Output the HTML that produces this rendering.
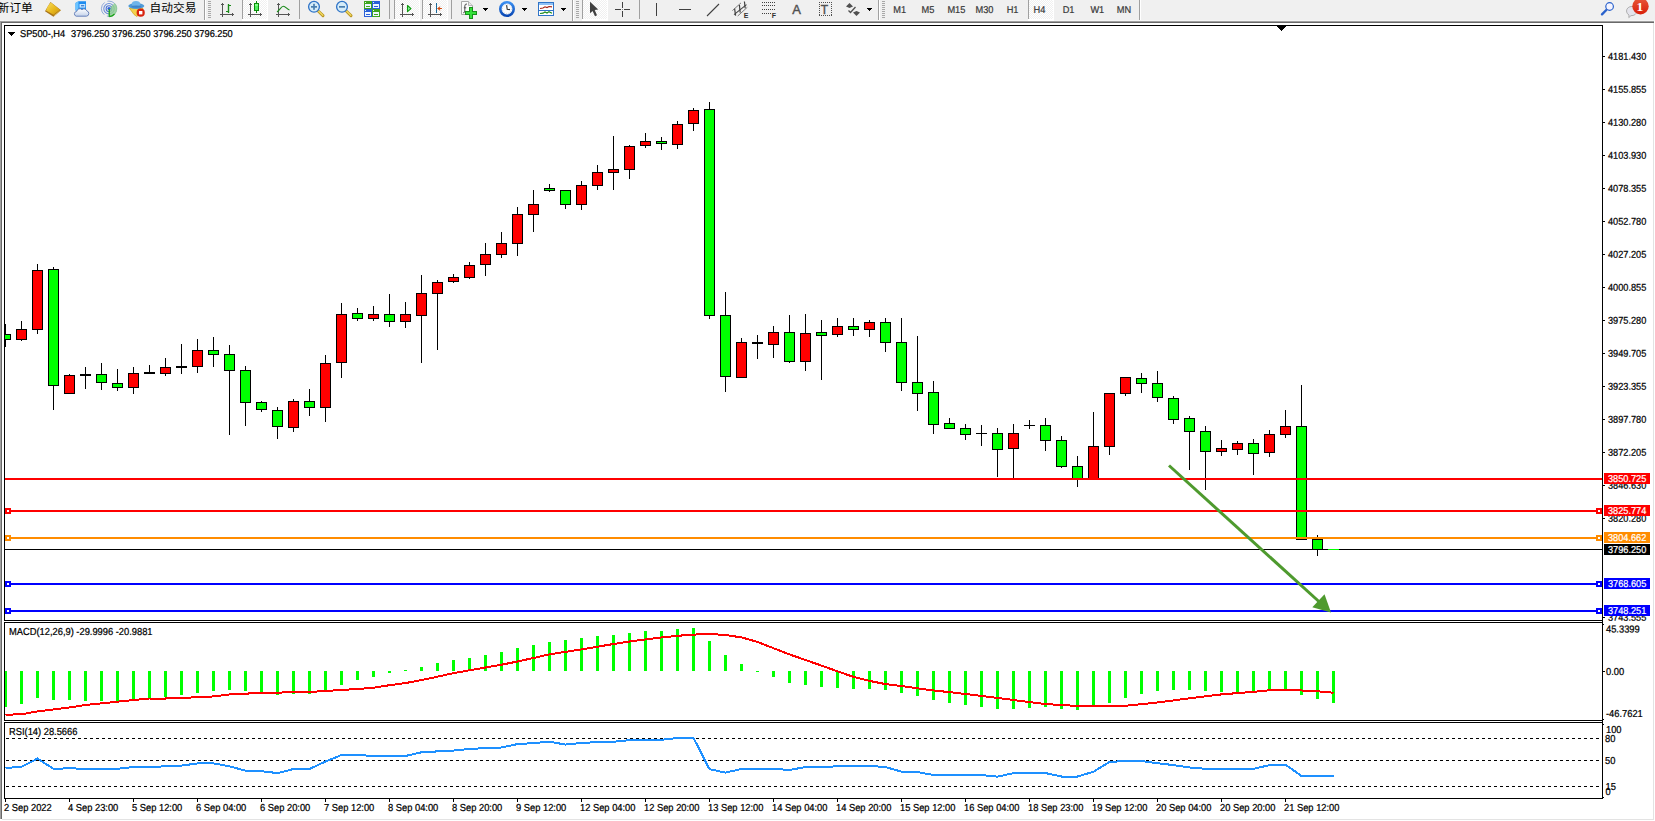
<!DOCTYPE html>
<html lang="zh"><head><meta charset="utf-8"><title>SP500-,H4</title>
<style>
html,body{margin:0;padding:0;background:#fff;}
body{width:1655px;height:821px;overflow:hidden;position:relative;font-family:"Liberation Sans","Noto Sans CJK SC",sans-serif;}
svg text{white-space:pre;}
</style></head><body>
<svg width="1655" height="821" viewBox="0 0 1655 821" style="position:absolute;left:0;top:0"><g shape-rendering="crispEdges"><rect x="0" y="0" width="1655" height="20" fill="#f0f0f0"/>
<rect x="0" y="20" width="1655" height="1" fill="#f5f5f5"/>
<rect x="0" y="21" width="1654" height="1" fill="#a0a0a0"/>
<rect x="1" y="22" width="1653" height="1" fill="#696969"/>
<rect x="0" y="22" width="1" height="797" fill="#a0a0a0"/>
<rect x="1" y="23" width="1" height="796" fill="#696969"/>
<rect x="1653" y="23" width="1" height="797" fill="#e3e3e3"/>
<rect x="2" y="819" width="1652" height="1" fill="#e3e3e3"/>
<rect x="4" y="25" width="1599" height="1" fill="#000"/><rect x="4" y="620" width="1599" height="1" fill="#000"/><rect x="4" y="25" width="1" height="596" fill="#000"/><rect x="1602" y="25" width="1" height="596" fill="#000"/>
<rect x="4" y="622" width="1599" height="1" fill="#000"/><rect x="4" y="720" width="1599" height="1" fill="#000"/><rect x="4" y="622" width="1" height="99" fill="#000"/><rect x="1602" y="622" width="1" height="99" fill="#000"/>
<rect x="4" y="722" width="1599" height="1" fill="#000"/><rect x="4" y="798" width="1599" height="1" fill="#000"/><rect x="4" y="722" width="1" height="77" fill="#000"/><rect x="1602" y="722" width="1" height="77" fill="#000"/>
<rect x="1602" y="620" width="1" height="3" fill="#000"/>
<rect x="1602" y="720" width="1" height="3" fill="#000"/>
<rect x="1277" y="26" width="9" height="1" fill="#000"/>
<rect x="1278" y="27" width="7" height="1" fill="#000"/>
<rect x="1279" y="28" width="5" height="1" fill="#000"/>
<rect x="1280" y="29" width="3" height="1" fill="#000"/>
<rect x="1281" y="30" width="1" height="1" fill="#000"/>
<rect x="8" y="32" width="7" height="1" fill="#000"/>
<rect x="9" y="33" width="5" height="1" fill="#000"/>
<rect x="10" y="34" width="3" height="1" fill="#000"/>
<rect x="11" y="35" width="1" height="1" fill="#000"/>
<rect x="5" y="324" width="1" height="23" fill="#000"/>
<rect x="5" y="334" width="6" height="6" fill="#000"/>
<rect x="5" y="335" width="5" height="4" fill="#00ff00"/>
<rect x="21" y="321" width="1" height="20" fill="#000"/>
<rect x="16" y="329" width="11" height="11" fill="#000"/>
<rect x="17" y="330" width="9" height="9" fill="#ff0000"/>
<rect x="37" y="264" width="1" height="70" fill="#000"/>
<rect x="32" y="270" width="11" height="60" fill="#000"/>
<rect x="33" y="271" width="9" height="58" fill="#ff0000"/>
<rect x="53" y="267" width="1" height="143" fill="#000"/>
<rect x="48" y="269" width="11" height="117" fill="#000"/>
<rect x="49" y="270" width="9" height="115" fill="#00ff00"/>
<rect x="69" y="374" width="1" height="20" fill="#000"/>
<rect x="64" y="375" width="11" height="19" fill="#000"/>
<rect x="65" y="376" width="9" height="17" fill="#ff0000"/>
<rect x="85" y="367" width="1" height="22" fill="#000"/>
<rect x="80" y="374" width="11" height="2" fill="#000"/>
<rect x="101" y="363" width="1" height="27" fill="#000"/>
<rect x="96" y="374" width="11" height="9" fill="#000"/>
<rect x="97" y="375" width="9" height="7" fill="#00ff00"/>
<rect x="117" y="369" width="1" height="22" fill="#000"/>
<rect x="112" y="383" width="11" height="5" fill="#000"/>
<rect x="113" y="384" width="9" height="3" fill="#00ff00"/>
<rect x="133" y="367" width="1" height="27" fill="#000"/>
<rect x="128" y="373" width="11" height="15" fill="#000"/>
<rect x="129" y="374" width="9" height="13" fill="#ff0000"/>
<rect x="149" y="365" width="1" height="9" fill="#000"/>
<rect x="144" y="372" width="11" height="2" fill="#000"/>
<rect x="165" y="358" width="1" height="18" fill="#000"/>
<rect x="160" y="367" width="11" height="7" fill="#000"/>
<rect x="161" y="368" width="9" height="5" fill="#ff0000"/>
<rect x="181" y="344" width="1" height="30" fill="#000"/>
<rect x="176" y="366" width="11" height="2" fill="#000"/>
<rect x="197" y="339" width="1" height="34" fill="#000"/>
<rect x="192" y="350" width="11" height="17" fill="#000"/>
<rect x="193" y="351" width="9" height="15" fill="#ff0000"/>
<rect x="213" y="337" width="1" height="30" fill="#000"/>
<rect x="208" y="350" width="11" height="5" fill="#000"/>
<rect x="209" y="351" width="9" height="3" fill="#00ff00"/>
<rect x="229" y="345" width="1" height="90" fill="#000"/>
<rect x="224" y="354" width="11" height="17" fill="#000"/>
<rect x="225" y="355" width="9" height="15" fill="#00ff00"/>
<rect x="245" y="366" width="1" height="60" fill="#000"/>
<rect x="240" y="370" width="11" height="33" fill="#000"/>
<rect x="241" y="371" width="9" height="31" fill="#00ff00"/>
<rect x="261" y="401" width="1" height="11" fill="#000"/>
<rect x="256" y="402" width="11" height="8" fill="#000"/>
<rect x="257" y="403" width="9" height="6" fill="#00ff00"/>
<rect x="277" y="407" width="1" height="32" fill="#000"/>
<rect x="272" y="410" width="11" height="17" fill="#000"/>
<rect x="273" y="411" width="9" height="15" fill="#00ff00"/>
<rect x="293" y="399" width="1" height="33" fill="#000"/>
<rect x="288" y="401" width="11" height="27" fill="#000"/>
<rect x="289" y="402" width="9" height="25" fill="#ff0000"/>
<rect x="309" y="389" width="1" height="27" fill="#000"/>
<rect x="304" y="401" width="11" height="7" fill="#000"/>
<rect x="305" y="402" width="9" height="5" fill="#00ff00"/>
<rect x="325" y="355" width="1" height="67" fill="#000"/>
<rect x="320" y="363" width="11" height="45" fill="#000"/>
<rect x="321" y="364" width="9" height="43" fill="#ff0000"/>
<rect x="341" y="303" width="1" height="75" fill="#000"/>
<rect x="336" y="314" width="11" height="49" fill="#000"/>
<rect x="337" y="315" width="9" height="47" fill="#ff0000"/>
<rect x="357" y="308" width="1" height="13" fill="#000"/>
<rect x="352" y="313" width="11" height="6" fill="#000"/>
<rect x="353" y="314" width="9" height="4" fill="#00ff00"/>
<rect x="373" y="306" width="1" height="15" fill="#000"/>
<rect x="368" y="314" width="11" height="5" fill="#000"/>
<rect x="369" y="315" width="9" height="3" fill="#ff0000"/>
<rect x="389" y="294" width="1" height="33" fill="#000"/>
<rect x="384" y="314" width="11" height="8" fill="#000"/>
<rect x="385" y="315" width="9" height="6" fill="#00ff00"/>
<rect x="405" y="302" width="1" height="26" fill="#000"/>
<rect x="400" y="314" width="11" height="8" fill="#000"/>
<rect x="401" y="315" width="9" height="6" fill="#ff0000"/>
<rect x="421" y="275" width="1" height="88" fill="#000"/>
<rect x="416" y="293" width="11" height="23" fill="#000"/>
<rect x="417" y="294" width="9" height="21" fill="#ff0000"/>
<rect x="437" y="280" width="1" height="70" fill="#000"/>
<rect x="432" y="282" width="11" height="12" fill="#000"/>
<rect x="433" y="283" width="9" height="10" fill="#ff0000"/>
<rect x="453" y="274" width="1" height="9" fill="#000"/>
<rect x="448" y="277" width="11" height="5" fill="#000"/>
<rect x="449" y="278" width="9" height="3" fill="#ff0000"/>
<rect x="469" y="262" width="1" height="17" fill="#000"/>
<rect x="464" y="265" width="11" height="13" fill="#000"/>
<rect x="465" y="266" width="9" height="11" fill="#ff0000"/>
<rect x="485" y="243" width="1" height="33" fill="#000"/>
<rect x="480" y="254" width="11" height="11" fill="#000"/>
<rect x="481" y="255" width="9" height="9" fill="#ff0000"/>
<rect x="501" y="232" width="1" height="26" fill="#000"/>
<rect x="496" y="243" width="11" height="12" fill="#000"/>
<rect x="497" y="244" width="9" height="10" fill="#ff0000"/>
<rect x="517" y="207" width="1" height="49" fill="#000"/>
<rect x="512" y="214" width="11" height="30" fill="#000"/>
<rect x="513" y="215" width="9" height="28" fill="#ff0000"/>
<rect x="533" y="190" width="1" height="42" fill="#000"/>
<rect x="528" y="204" width="11" height="11" fill="#000"/>
<rect x="529" y="205" width="9" height="9" fill="#ff0000"/>
<rect x="549" y="184" width="1" height="8" fill="#000"/>
<rect x="544" y="188" width="11" height="3" fill="#000"/>
<rect x="545" y="189" width="9" height="1" fill="#00ff00"/>
<rect x="565" y="190" width="1" height="19" fill="#000"/>
<rect x="560" y="190" width="11" height="15" fill="#000"/>
<rect x="561" y="191" width="9" height="13" fill="#00ff00"/>
<rect x="581" y="181" width="1" height="29" fill="#000"/>
<rect x="576" y="185" width="11" height="20" fill="#000"/>
<rect x="577" y="186" width="9" height="18" fill="#ff0000"/>
<rect x="597" y="165" width="1" height="25" fill="#000"/>
<rect x="592" y="172" width="11" height="14" fill="#000"/>
<rect x="593" y="173" width="9" height="12" fill="#ff0000"/>
<rect x="613" y="136" width="1" height="54" fill="#000"/>
<rect x="608" y="169" width="11" height="4" fill="#000"/>
<rect x="609" y="170" width="9" height="2" fill="#ff0000"/>
<rect x="629" y="145" width="1" height="34" fill="#000"/>
<rect x="624" y="146" width="11" height="24" fill="#000"/>
<rect x="625" y="147" width="9" height="22" fill="#ff0000"/>
<rect x="645" y="133" width="1" height="15" fill="#000"/>
<rect x="640" y="141" width="11" height="5" fill="#000"/>
<rect x="641" y="142" width="9" height="3" fill="#ff0000"/>
<rect x="661" y="137" width="1" height="13" fill="#000"/>
<rect x="656" y="141" width="11" height="3" fill="#000"/>
<rect x="657" y="142" width="9" height="1" fill="#00ff00"/>
<rect x="677" y="121" width="1" height="28" fill="#000"/>
<rect x="672" y="124" width="11" height="21" fill="#000"/>
<rect x="673" y="125" width="9" height="19" fill="#ff0000"/>
<rect x="693" y="108" width="1" height="23" fill="#000"/>
<rect x="688" y="110" width="11" height="14" fill="#000"/>
<rect x="689" y="111" width="9" height="12" fill="#ff0000"/>
<rect x="709" y="102" width="1" height="217" fill="#000"/>
<rect x="704" y="109" width="11" height="207" fill="#000"/>
<rect x="705" y="110" width="9" height="205" fill="#00ff00"/>
<rect x="725" y="292" width="1" height="100" fill="#000"/>
<rect x="720" y="315" width="11" height="62" fill="#000"/>
<rect x="721" y="316" width="9" height="60" fill="#00ff00"/>
<rect x="741" y="338" width="1" height="40" fill="#000"/>
<rect x="736" y="342" width="11" height="36" fill="#000"/>
<rect x="737" y="343" width="9" height="34" fill="#ff0000"/>
<rect x="757" y="335" width="1" height="24" fill="#000"/>
<rect x="752" y="342" width="11" height="2" fill="#000"/>
<rect x="773" y="326" width="1" height="32" fill="#000"/>
<rect x="768" y="332" width="11" height="13" fill="#000"/>
<rect x="769" y="333" width="9" height="11" fill="#ff0000"/>
<rect x="789" y="315" width="1" height="48" fill="#000"/>
<rect x="784" y="332" width="11" height="30" fill="#000"/>
<rect x="785" y="333" width="9" height="28" fill="#00ff00"/>
<rect x="805" y="314" width="1" height="57" fill="#000"/>
<rect x="800" y="333" width="11" height="29" fill="#000"/>
<rect x="801" y="334" width="9" height="27" fill="#ff0000"/>
<rect x="821" y="320" width="1" height="60" fill="#000"/>
<rect x="816" y="332" width="11" height="4" fill="#000"/>
<rect x="817" y="333" width="9" height="2" fill="#00ff00"/>
<rect x="837" y="318" width="1" height="19" fill="#000"/>
<rect x="832" y="326" width="11" height="9" fill="#000"/>
<rect x="833" y="327" width="9" height="7" fill="#ff0000"/>
<rect x="853" y="318" width="1" height="18" fill="#000"/>
<rect x="848" y="326" width="11" height="4" fill="#000"/>
<rect x="849" y="327" width="9" height="2" fill="#00ff00"/>
<rect x="869" y="320" width="1" height="17" fill="#000"/>
<rect x="864" y="322" width="11" height="8" fill="#000"/>
<rect x="865" y="323" width="9" height="6" fill="#ff0000"/>
<rect x="885" y="318" width="1" height="34" fill="#000"/>
<rect x="880" y="322" width="11" height="21" fill="#000"/>
<rect x="881" y="323" width="9" height="19" fill="#00ff00"/>
<rect x="901" y="318" width="1" height="73" fill="#000"/>
<rect x="896" y="342" width="11" height="41" fill="#000"/>
<rect x="897" y="343" width="9" height="39" fill="#00ff00"/>
<rect x="917" y="336" width="1" height="75" fill="#000"/>
<rect x="912" y="382" width="11" height="12" fill="#000"/>
<rect x="913" y="383" width="9" height="10" fill="#00ff00"/>
<rect x="933" y="381" width="1" height="53" fill="#000"/>
<rect x="928" y="392" width="11" height="33" fill="#000"/>
<rect x="929" y="393" width="9" height="31" fill="#00ff00"/>
<rect x="949" y="418" width="1" height="11" fill="#000"/>
<rect x="944" y="423" width="11" height="6" fill="#000"/>
<rect x="945" y="424" width="9" height="4" fill="#00ff00"/>
<rect x="965" y="424" width="1" height="16" fill="#000"/>
<rect x="960" y="428" width="11" height="7" fill="#000"/>
<rect x="961" y="429" width="9" height="5" fill="#00ff00"/>
<rect x="981" y="425" width="1" height="21" fill="#000"/>
<rect x="976" y="433" width="11" height="1" fill="#000"/>
<rect x="997" y="428" width="1" height="49" fill="#000"/>
<rect x="992" y="433" width="11" height="17" fill="#000"/>
<rect x="993" y="434" width="9" height="15" fill="#00ff00"/>
<rect x="1013" y="424" width="1" height="55" fill="#000"/>
<rect x="1008" y="433" width="11" height="16" fill="#000"/>
<rect x="1009" y="434" width="9" height="14" fill="#ff0000"/>
<rect x="1029" y="420" width="1" height="9" fill="#000"/>
<rect x="1024" y="425" width="11" height="1" fill="#000"/>
<rect x="1045" y="418" width="1" height="33" fill="#000"/>
<rect x="1040" y="425" width="11" height="16" fill="#000"/>
<rect x="1041" y="426" width="9" height="14" fill="#00ff00"/>
<rect x="1061" y="436" width="1" height="32" fill="#000"/>
<rect x="1056" y="440" width="11" height="27" fill="#000"/>
<rect x="1057" y="441" width="9" height="25" fill="#00ff00"/>
<rect x="1077" y="456" width="1" height="31" fill="#000"/>
<rect x="1072" y="466" width="11" height="13" fill="#000"/>
<rect x="1073" y="467" width="9" height="11" fill="#00ff00"/>
<rect x="1093" y="412" width="1" height="67" fill="#000"/>
<rect x="1088" y="446" width="11" height="33" fill="#000"/>
<rect x="1089" y="447" width="9" height="31" fill="#ff0000"/>
<rect x="1109" y="393" width="1" height="62" fill="#000"/>
<rect x="1104" y="393" width="11" height="54" fill="#000"/>
<rect x="1105" y="394" width="9" height="52" fill="#ff0000"/>
<rect x="1125" y="377" width="1" height="19" fill="#000"/>
<rect x="1120" y="377" width="11" height="17" fill="#000"/>
<rect x="1121" y="378" width="9" height="15" fill="#ff0000"/>
<rect x="1141" y="373" width="1" height="20" fill="#000"/>
<rect x="1136" y="378" width="11" height="6" fill="#000"/>
<rect x="1137" y="379" width="9" height="4" fill="#00ff00"/>
<rect x="1157" y="371" width="1" height="31" fill="#000"/>
<rect x="1152" y="383" width="11" height="15" fill="#000"/>
<rect x="1153" y="384" width="9" height="13" fill="#00ff00"/>
<rect x="1173" y="396" width="1" height="28" fill="#000"/>
<rect x="1168" y="398" width="11" height="22" fill="#000"/>
<rect x="1169" y="399" width="9" height="20" fill="#00ff00"/>
<rect x="1189" y="416" width="1" height="54" fill="#000"/>
<rect x="1184" y="418" width="11" height="14" fill="#000"/>
<rect x="1185" y="419" width="9" height="12" fill="#00ff00"/>
<rect x="1205" y="426" width="1" height="64" fill="#000"/>
<rect x="1200" y="431" width="11" height="21" fill="#000"/>
<rect x="1201" y="432" width="9" height="19" fill="#00ff00"/>
<rect x="1221" y="440" width="1" height="16" fill="#000"/>
<rect x="1216" y="448" width="11" height="4" fill="#000"/>
<rect x="1217" y="449" width="9" height="2" fill="#ff0000"/>
<rect x="1237" y="441" width="1" height="14" fill="#000"/>
<rect x="1232" y="443" width="11" height="7" fill="#000"/>
<rect x="1233" y="444" width="9" height="5" fill="#ff0000"/>
<rect x="1253" y="439" width="1" height="36" fill="#000"/>
<rect x="1248" y="443" width="11" height="11" fill="#000"/>
<rect x="1249" y="444" width="9" height="9" fill="#00ff00"/>
<rect x="1269" y="430" width="1" height="27" fill="#000"/>
<rect x="1264" y="434" width="11" height="19" fill="#000"/>
<rect x="1265" y="435" width="9" height="17" fill="#ff0000"/>
<rect x="1285" y="410" width="1" height="28" fill="#000"/>
<rect x="1280" y="426" width="11" height="9" fill="#000"/>
<rect x="1281" y="427" width="9" height="7" fill="#ff0000"/>
<rect x="1301" y="385" width="1" height="155" fill="#000"/>
<rect x="1296" y="426" width="11" height="114" fill="#000"/>
<rect x="1297" y="427" width="9" height="112" fill="#00ff00"/>
<rect x="1317" y="535" width="1" height="21" fill="#000"/>
<rect x="1312" y="539" width="11" height="11" fill="#000"/>
<rect x="1313" y="540" width="9" height="9" fill="#00ff00"/>
<rect x="5" y="549" width="1597" height="1" fill="#000"/>
<rect x="1328" y="549" width="11" height="1" fill="#00ff00"/>
<rect x="5" y="478" width="1597" height="2" fill="#ff0000"/>
<rect x="5" y="510" width="1597" height="2" fill="#ff0000"/><rect x="5" y="508" width="6" height="6" fill="#ff0000"/><rect x="7" y="510" width="2" height="2" fill="#fff"/><rect x="1596" y="508" width="6" height="6" fill="#ff0000"/><rect x="1598" y="510" width="2" height="2" fill="#fff"/>
<rect x="5" y="537" width="1597" height="2" fill="#ff8c00"/><rect x="5" y="535" width="6" height="6" fill="#ff8c00"/><rect x="7" y="537" width="2" height="2" fill="#fff"/><rect x="1596" y="535" width="6" height="6" fill="#ff8c00"/><rect x="1598" y="537" width="2" height="2" fill="#fff"/>
<rect x="5" y="583" width="1597" height="2" fill="#0000ff"/><rect x="5" y="581" width="6" height="6" fill="#0000ff"/><rect x="7" y="583" width="2" height="2" fill="#fff"/><rect x="1596" y="581" width="6" height="6" fill="#0000ff"/><rect x="1598" y="583" width="2" height="2" fill="#fff"/>
<rect x="5" y="610" width="1597" height="2" fill="#0000ff"/><rect x="5" y="608" width="6" height="6" fill="#0000ff"/><rect x="7" y="610" width="2" height="2" fill="#fff"/><rect x="1596" y="608" width="6" height="6" fill="#0000ff"/><rect x="1598" y="610" width="2" height="2" fill="#fff"/>
<rect x="1603" y="56" width="2" height="1" fill="#000"/>
<rect x="1603" y="89" width="2" height="1" fill="#000"/>
<rect x="1603" y="122" width="2" height="1" fill="#000"/>
<rect x="1603" y="155" width="2" height="1" fill="#000"/>
<rect x="1603" y="188" width="2" height="1" fill="#000"/>
<rect x="1603" y="221" width="2" height="1" fill="#000"/>
<rect x="1603" y="254" width="2" height="1" fill="#000"/>
<rect x="1603" y="287" width="2" height="1" fill="#000"/>
<rect x="1603" y="320" width="2" height="1" fill="#000"/>
<rect x="1603" y="353" width="2" height="1" fill="#000"/>
<rect x="1603" y="386" width="2" height="1" fill="#000"/>
<rect x="1603" y="419" width="2" height="1" fill="#000"/>
<rect x="1603" y="452" width="2" height="1" fill="#000"/>
<rect x="1603" y="485" width="2" height="1" fill="#000"/>
<rect x="1603" y="518" width="2" height="1" fill="#000"/>
<rect x="1603" y="617" width="2" height="1" fill="#000"/>
<rect x="5" y="671" width="2" height="36" fill="#00ff00"/>
<rect x="20" y="671" width="3" height="33" fill="#00ff00"/>
<rect x="36" y="671" width="3" height="27" fill="#00ff00"/>
<rect x="52" y="671" width="3" height="29" fill="#00ff00"/>
<rect x="68" y="671" width="3" height="29" fill="#00ff00"/>
<rect x="84" y="671" width="3" height="30" fill="#00ff00"/>
<rect x="100" y="671" width="3" height="30" fill="#00ff00"/>
<rect x="116" y="671" width="3" height="30" fill="#00ff00"/>
<rect x="132" y="671" width="3" height="29" fill="#00ff00"/>
<rect x="148" y="671" width="3" height="28" fill="#00ff00"/>
<rect x="164" y="671" width="3" height="26" fill="#00ff00"/>
<rect x="180" y="671" width="3" height="24" fill="#00ff00"/>
<rect x="196" y="671" width="3" height="22" fill="#00ff00"/>
<rect x="212" y="671" width="3" height="20" fill="#00ff00"/>
<rect x="228" y="671" width="3" height="19" fill="#00ff00"/>
<rect x="244" y="671" width="3" height="20" fill="#00ff00"/>
<rect x="260" y="671" width="3" height="22" fill="#00ff00"/>
<rect x="276" y="671" width="3" height="24" fill="#00ff00"/>
<rect x="292" y="671" width="3" height="23" fill="#00ff00"/>
<rect x="308" y="671" width="3" height="23" fill="#00ff00"/>
<rect x="324" y="671" width="3" height="21" fill="#00ff00"/>
<rect x="340" y="671" width="3" height="14" fill="#00ff00"/>
<rect x="356" y="671" width="3" height="9" fill="#00ff00"/>
<rect x="372" y="671" width="3" height="6" fill="#00ff00"/>
<rect x="388" y="671" width="3" height="2" fill="#00ff00"/>
<rect x="404" y="670" width="3" height="1" fill="#00ff00"/>
<rect x="420" y="667" width="3" height="4" fill="#00ff00"/>
<rect x="436" y="663" width="3" height="8" fill="#00ff00"/>
<rect x="452" y="660" width="3" height="11" fill="#00ff00"/>
<rect x="468" y="658" width="3" height="13" fill="#00ff00"/>
<rect x="484" y="655" width="3" height="16" fill="#00ff00"/>
<rect x="500" y="652" width="3" height="19" fill="#00ff00"/>
<rect x="516" y="648" width="3" height="23" fill="#00ff00"/>
<rect x="532" y="645" width="3" height="26" fill="#00ff00"/>
<rect x="548" y="642" width="3" height="29" fill="#00ff00"/>
<rect x="564" y="640" width="3" height="31" fill="#00ff00"/>
<rect x="580" y="638" width="3" height="33" fill="#00ff00"/>
<rect x="596" y="636" width="3" height="35" fill="#00ff00"/>
<rect x="612" y="635" width="3" height="36" fill="#00ff00"/>
<rect x="628" y="633" width="3" height="38" fill="#00ff00"/>
<rect x="644" y="631" width="3" height="40" fill="#00ff00"/>
<rect x="660" y="631" width="3" height="40" fill="#00ff00"/>
<rect x="676" y="629" width="3" height="42" fill="#00ff00"/>
<rect x="692" y="628" width="3" height="43" fill="#00ff00"/>
<rect x="708" y="641" width="3" height="30" fill="#00ff00"/>
<rect x="724" y="655" width="3" height="16" fill="#00ff00"/>
<rect x="740" y="664" width="3" height="7" fill="#00ff00"/>
<rect x="756" y="671" width="3" height="1" fill="#00ff00"/>
<rect x="772" y="671" width="3" height="6" fill="#00ff00"/>
<rect x="788" y="671" width="3" height="12" fill="#00ff00"/>
<rect x="804" y="671" width="3" height="14" fill="#00ff00"/>
<rect x="820" y="671" width="3" height="16" fill="#00ff00"/>
<rect x="836" y="671" width="3" height="17" fill="#00ff00"/>
<rect x="852" y="671" width="3" height="18" fill="#00ff00"/>
<rect x="868" y="671" width="3" height="18" fill="#00ff00"/>
<rect x="884" y="671" width="3" height="19" fill="#00ff00"/>
<rect x="900" y="671" width="3" height="22" fill="#00ff00"/>
<rect x="916" y="671" width="3" height="25" fill="#00ff00"/>
<rect x="932" y="671" width="3" height="29" fill="#00ff00"/>
<rect x="948" y="671" width="3" height="32" fill="#00ff00"/>
<rect x="964" y="671" width="3" height="34" fill="#00ff00"/>
<rect x="980" y="671" width="3" height="36" fill="#00ff00"/>
<rect x="996" y="671" width="3" height="38" fill="#00ff00"/>
<rect x="1012" y="671" width="3" height="38" fill="#00ff00"/>
<rect x="1028" y="671" width="3" height="37" fill="#00ff00"/>
<rect x="1044" y="671" width="3" height="36" fill="#00ff00"/>
<rect x="1060" y="671" width="3" height="38" fill="#00ff00"/>
<rect x="1076" y="671" width="3" height="39" fill="#00ff00"/>
<rect x="1092" y="671" width="3" height="36" fill="#00ff00"/>
<rect x="1108" y="671" width="3" height="32" fill="#00ff00"/>
<rect x="1124" y="671" width="3" height="27" fill="#00ff00"/>
<rect x="1140" y="671" width="3" height="23" fill="#00ff00"/>
<rect x="1156" y="671" width="3" height="20" fill="#00ff00"/>
<rect x="1172" y="671" width="3" height="19" fill="#00ff00"/>
<rect x="1188" y="671" width="3" height="19" fill="#00ff00"/>
<rect x="1204" y="671" width="3" height="20" fill="#00ff00"/>
<rect x="1220" y="671" width="3" height="21" fill="#00ff00"/>
<rect x="1236" y="671" width="3" height="22" fill="#00ff00"/>
<rect x="1252" y="671" width="3" height="21" fill="#00ff00"/>
<rect x="1268" y="671" width="3" height="20" fill="#00ff00"/>
<rect x="1284" y="671" width="3" height="19" fill="#00ff00"/>
<rect x="1300" y="671" width="3" height="24" fill="#00ff00"/>
<rect x="1316" y="671" width="3" height="28" fill="#00ff00"/>
<rect x="1332" y="671" width="3" height="32" fill="#00ff00"/>
<polyline fill="none" stroke="#ff0000" stroke-width="2" points="5.5,714.7 21.5,714.3 37.5,711.4 53.5,709.4 69.5,707.5 85.5,705 101.5,703.4 117.5,701.7 133.5,700 149.5,698.5 165.5,698.5 181.5,697.8 197.5,697.3 213.5,696.4 229.5,694.4 245.5,693.7 261.5,692.7 277.5,692.7 293.5,692 309.5,692 325.5,691 341.5,690 357.5,689 373.5,687.7 389.5,685.2 405.5,683.1 421.5,680.0 437.5,676.7 453.5,673.1 469.5,670.3 485.5,667.5 501.5,664.7 517.5,661.5 533.5,658.0 549.5,654.3 565.5,651.9 581.5,649.4 597.5,646.7 613.5,644.0 629.5,641.5 645.5,639.4 661.5,637.5 677.5,635.8 693.5,634.6 709.5,634.0 725.5,635.0 741.5,637.4 757.5,641.9 773.5,648.2 789.5,654.4 805.5,660.0 821.5,665.6 837.5,671.3 853.5,676.9 869.5,680.9 885.5,684.1 901.5,686.0 917.5,688.3 933.5,690.5 949.5,692.1 965.5,694.0 981.5,696.0 997.5,697.9 1013.5,700.0 1029.5,702.1 1045.5,704.0 1061.5,705.1 1077.5,705.9 1093.5,706.2 1109.5,706.2 1125.5,705.8 1141.5,704.2 1157.5,702.5 1173.5,700.4 1189.5,698.3 1205.5,696.3 1221.5,694.4 1237.5,693.1 1253.5,691.8 1269.5,690.3 1285.5,690.0 1301.5,690.5 1317.5,691.3 1333.5,692.7"/>
<rect x="1603" y="624" width="1" height="1" fill="#000"/><rect x="1603" y="671" width="2" height="1" fill="#000"/><rect x="1603" y="719" width="1" height="1" fill="#000"/><rect x="1603" y="724" width="1" height="1" fill="#000"/><rect x="1603" y="797" width="1" height="1" fill="#000"/>
<line x1="6" x2="1602" y1="738.5" y2="738.5" stroke="#000" stroke-width="1" stroke-dasharray="3 3"/>
<line x1="6" x2="1602" y1="760.5" y2="760.5" stroke="#000" stroke-width="1" stroke-dasharray="3 3"/>
<line x1="6" x2="1602" y1="786.5" y2="786.5" stroke="#000" stroke-width="1" stroke-dasharray="3 3"/>
<polyline fill="none" stroke="#1e90ff" stroke-width="2" points="5.5,768 21.5,766.8 37.5,758.6 53.5,768.8 69.5,768.3 85.5,768.8 101.5,768.8 117.5,768.8 133.5,767 149.5,767 165.5,766.3 181.5,765.6 197.5,763.4 213.5,763.4 229.5,766.3 245.5,770.7 261.5,771.2 277.5,773.1 293.5,769 309.5,769 325.5,761.5 341.5,755 357.5,755 373.5,756 389.5,756 405.5,756 421.5,752.3 437.5,751.4 453.5,750.6 469.5,748.9 485.5,748.2 501.5,747.5 517.5,744.1 533.5,743.1 549.5,741.7 565.5,744.6 581.5,742.9 597.5,742.2 613.5,741.7 629.5,740.2 645.5,739.8 661.5,739.8 677.5,738 693.5,737.8 709.5,769.2 725.5,772.6 741.5,769 757.5,769 773.5,768.8 789.5,770 805.5,767 821.5,767 837.5,766.3 853.5,765.9 869.5,765.9 885.5,767 901.5,771.7 917.5,772.1 933.5,775 949.5,775 965.5,775 981.5,775 997.5,776.7 1013.5,773.1 1029.5,773.1 1045.5,773.1 1061.5,776.5 1077.5,776.5 1093.5,771.7 1109.5,762 1125.5,761 1141.5,761 1157.5,763.2 1173.5,765.1 1189.5,767.5 1205.5,768.8 1221.5,768.8 1237.5,768.8 1253.5,768.8 1269.5,765.1 1285.5,764.6 1301.5,776 1317.5,776 1333.5,776"/>
<rect x="5" y="799" width="1" height="3" fill="#000"/>
<rect x="69" y="799" width="1" height="3" fill="#000"/>
<rect x="133" y="799" width="1" height="3" fill="#000"/>
<rect x="197" y="799" width="1" height="3" fill="#000"/>
<rect x="261" y="799" width="1" height="3" fill="#000"/>
<rect x="325" y="799" width="1" height="3" fill="#000"/>
<rect x="389" y="799" width="1" height="3" fill="#000"/>
<rect x="453" y="799" width="1" height="3" fill="#000"/>
<rect x="517" y="799" width="1" height="3" fill="#000"/>
<rect x="581" y="799" width="1" height="3" fill="#000"/>
<rect x="645" y="799" width="1" height="3" fill="#000"/>
<rect x="709" y="799" width="1" height="3" fill="#000"/>
<rect x="773" y="799" width="1" height="3" fill="#000"/>
<rect x="837" y="799" width="1" height="3" fill="#000"/>
<rect x="901" y="799" width="1" height="3" fill="#000"/>
<rect x="965" y="799" width="1" height="3" fill="#000"/>
<rect x="1029" y="799" width="1" height="3" fill="#000"/>
<rect x="1093" y="799" width="1" height="3" fill="#000"/>
<rect x="1157" y="799" width="1" height="3" fill="#000"/>
<rect x="1221" y="799" width="1" height="3" fill="#000"/>
<rect x="1285" y="799" width="1" height="3" fill="#000"/></g>
<g><line x1="1169" y1="465.5" x2="1320" y2="602.5" stroke="#4e9a2e" stroke-width="3"/>
<polygon points="1331,612.5 1324.5,594.3 1312.3,607.3" fill="#4e9a2e"/></g>
<g font-family="Liberation Sans, sans-serif" font-size="9.33" stroke-width="0.22" paint-order="stroke"><text transform="translate(20 37) rotate(0.03) scale(1 1.08)" font-size="9.25" fill="#000" stroke="#000" >SP500-,H4</text>
<text transform="translate(71 37) rotate(0.03) scale(1 1.08)" font-size="9.25" fill="#000" stroke="#000" >3796.250 3796.250 3796.250 3796.250</text>
<text transform="translate(1608 59.7) rotate(0.03) scale(1 1.08)" font-size="9.2" fill="#000" stroke="#000" >4181.430</text>
<text transform="translate(1608 92.7) rotate(0.03) scale(1 1.08)" font-size="9.2" fill="#000" stroke="#000" >4155.855</text>
<text transform="translate(1608 125.7) rotate(0.03) scale(1 1.08)" font-size="9.2" fill="#000" stroke="#000" >4130.280</text>
<text transform="translate(1608 158.7) rotate(0.03) scale(1 1.08)" font-size="9.2" fill="#000" stroke="#000" >4103.930</text>
<text transform="translate(1608 191.7) rotate(0.03) scale(1 1.08)" font-size="9.2" fill="#000" stroke="#000" >4078.355</text>
<text transform="translate(1608 224.7) rotate(0.03) scale(1 1.08)" font-size="9.2" fill="#000" stroke="#000" >4052.780</text>
<text transform="translate(1608 257.7) rotate(0.03) scale(1 1.08)" font-size="9.2" fill="#000" stroke="#000" >4027.205</text>
<text transform="translate(1608 290.7) rotate(0.03) scale(1 1.08)" font-size="9.2" fill="#000" stroke="#000" >4000.855</text>
<text transform="translate(1608 323.7) rotate(0.03) scale(1 1.08)" font-size="9.2" fill="#000" stroke="#000" >3975.280</text>
<text transform="translate(1608 356.7) rotate(0.03) scale(1 1.08)" font-size="9.2" fill="#000" stroke="#000" >3949.705</text>
<text transform="translate(1608 389.7) rotate(0.03) scale(1 1.08)" font-size="9.2" fill="#000" stroke="#000" >3923.355</text>
<text transform="translate(1608 422.7) rotate(0.03) scale(1 1.08)" font-size="9.2" fill="#000" stroke="#000" >3897.780</text>
<text transform="translate(1608 455.7) rotate(0.03) scale(1 1.08)" font-size="9.2" fill="#000" stroke="#000" >3872.205</text>
<text transform="translate(1608 488.7) rotate(0.03) scale(1 1.08)" font-size="9.2" fill="#000" stroke="#000" >3846.630</text>
<text transform="translate(1608 521.7) rotate(0.03) scale(1 1.08)" font-size="9.2" fill="#000" stroke="#000" >3820.280</text>
<text transform="translate(1608 620.7) rotate(0.03) scale(1 1.08)" font-size="9.2" fill="#000" stroke="#000" >3743.555</text>
<text transform="translate(1606 632.5) rotate(0.03) scale(1 1.08)" font-size="9.33" fill="#000" stroke="#000" >45.3399</text>
<text transform="translate(1606 675) rotate(0.03) scale(1 1.08)" font-size="9.33" fill="#000" stroke="#000" >0.00</text>
<text transform="translate(1606 717) rotate(0.03) scale(1 1.08)" font-size="9.33" fill="#000" stroke="#000" >-46.7621</text>
<text transform="translate(9 635) rotate(0.03) scale(1 1.08)" font-size="9.33" fill="#000" stroke="#000" >MACD(12,26,9) -29.9996 -20.9881</text>
<text transform="translate(9 735) rotate(0.03) scale(1 1.08)" font-size="9.33" fill="#000" stroke="#000" >RSI(14) 28.5666</text>
<text transform="translate(1606 733) rotate(0.03) scale(1 1.08)" font-size="9.33" fill="#000" stroke="#000" >100</text>
<text transform="translate(1605 742) rotate(0.03) scale(1 1.08)" font-size="9.33" fill="#000" stroke="#000" >80</text>
<text transform="translate(1605 764) rotate(0.03) scale(1 1.08)" font-size="9.33" fill="#000" stroke="#000" >50</text>
<text transform="translate(1605.5 790) rotate(0.03) scale(1 1.08)" font-size="9.33" fill="#000" stroke="#000" >15</text>
<text transform="translate(1605.5 795) rotate(0.03) scale(1 1.08)" font-size="9.33" fill="#000" stroke="#000" >0</text>
<text transform="translate(4 811) rotate(0.03) scale(1 1.08)" font-size="9.33" fill="#000" stroke="#000" >2 Sep 2022</text>
<text transform="translate(68 811) rotate(0.03) scale(1 1.08)" font-size="9.33" fill="#000" stroke="#000" >4 Sep 23:00</text>
<text transform="translate(132 811) rotate(0.03) scale(1 1.08)" font-size="9.33" fill="#000" stroke="#000" >5 Sep 12:00</text>
<text transform="translate(196 811) rotate(0.03) scale(1 1.08)" font-size="9.33" fill="#000" stroke="#000" >6 Sep 04:00</text>
<text transform="translate(260 811) rotate(0.03) scale(1 1.08)" font-size="9.33" fill="#000" stroke="#000" >6 Sep 20:00</text>
<text transform="translate(324 811) rotate(0.03) scale(1 1.08)" font-size="9.33" fill="#000" stroke="#000" >7 Sep 12:00</text>
<text transform="translate(388 811) rotate(0.03) scale(1 1.08)" font-size="9.33" fill="#000" stroke="#000" >8 Sep 04:00</text>
<text transform="translate(452 811) rotate(0.03) scale(1 1.08)" font-size="9.33" fill="#000" stroke="#000" >8 Sep 20:00</text>
<text transform="translate(516 811) rotate(0.03) scale(1 1.08)" font-size="9.33" fill="#000" stroke="#000" >9 Sep 12:00</text>
<text transform="translate(580 811) rotate(0.03) scale(1 1.08)" font-size="9.33" fill="#000" stroke="#000" >12 Sep 04:00</text>
<text transform="translate(644 811) rotate(0.03) scale(1 1.08)" font-size="9.33" fill="#000" stroke="#000" >12 Sep 20:00</text>
<text transform="translate(708 811) rotate(0.03) scale(1 1.08)" font-size="9.33" fill="#000" stroke="#000" >13 Sep 12:00</text>
<text transform="translate(772 811) rotate(0.03) scale(1 1.08)" font-size="9.33" fill="#000" stroke="#000" >14 Sep 04:00</text>
<text transform="translate(836 811) rotate(0.03) scale(1 1.08)" font-size="9.33" fill="#000" stroke="#000" >14 Sep 20:00</text>
<text transform="translate(900 811) rotate(0.03) scale(1 1.08)" font-size="9.33" fill="#000" stroke="#000" >15 Sep 12:00</text>
<text transform="translate(964 811) rotate(0.03) scale(1 1.08)" font-size="9.33" fill="#000" stroke="#000" >16 Sep 04:00</text>
<text transform="translate(1028 811) rotate(0.03) scale(1 1.08)" font-size="9.33" fill="#000" stroke="#000" >18 Sep 23:00</text>
<text transform="translate(1092 811) rotate(0.03) scale(1 1.08)" font-size="9.33" fill="#000" stroke="#000" >19 Sep 12:00</text>
<text transform="translate(1156 811) rotate(0.03) scale(1 1.08)" font-size="9.33" fill="#000" stroke="#000" >20 Sep 04:00</text>
<text transform="translate(1220 811) rotate(0.03) scale(1 1.08)" font-size="9.33" fill="#000" stroke="#000" >20 Sep 20:00</text>
<text transform="translate(1284 811) rotate(0.03) scale(1 1.08)" font-size="9.33" fill="#000" stroke="#000" >21 Sep 12:00</text></g>
<g shape-rendering="crispEdges"><rect x="1604" y="473" width="46" height="11" fill="#ff0000"/>
<rect x="1604" y="505" width="46" height="11" fill="#ff0000"/>
<rect x="1604" y="532" width="46" height="11" fill="#ff8c00"/>
<rect x="1604" y="544" width="46" height="11" fill="#000"/>
<rect x="1604" y="578" width="46" height="11" fill="#0000ff"/>
<rect x="1604" y="605" width="46" height="11" fill="#0000ff"/></g>
<g font-family="Liberation Sans, sans-serif" font-size="9.33" stroke-width="0.2" paint-order="stroke"><text transform="translate(1608 482) rotate(0.03) scale(1 1.08)" font-size="9.2" fill="#fff" stroke="#fff" >3850.725</text>
<text transform="translate(1608 514) rotate(0.03) scale(1 1.08)" font-size="9.2" fill="#fff" stroke="#fff" >3825.774</text>
<text transform="translate(1608 541) rotate(0.03) scale(1 1.08)" font-size="9.2" fill="#fff" stroke="#fff" >3804.662</text>
<text transform="translate(1608 553) rotate(0.03) scale(1 1.08)" font-size="9.2" fill="#fff" stroke="#fff" >3796.250</text>
<text transform="translate(1608 587) rotate(0.03) scale(1 1.08)" font-size="9.2" fill="#fff" stroke="#fff" >3768.605</text>
<text transform="translate(1608 614) rotate(0.03) scale(1 1.08)" font-size="9.2" fill="#fff" stroke="#fff" >3748.251</text></g>
<text x="-2.6" y="12.3" font-size="11.8" fill="#000" font-family="Liberation Sans, Noto Sans CJK SC, sans-serif">新订单</text>
<text x="149.6" y="12.3" font-size="11.7" fill="#000" font-family="Liberation Sans, Noto Sans CJK SC, sans-serif">自动交易</text>
<defs><linearGradient id="gk" x1="0" y1="0" x2="0" y2="1"><stop offset="0" stop-color="#3a8ef0"/><stop offset="1" stop-color="#0a48b4"/></linearGradient><pattern id="dith" width="2" height="2" patternUnits="userSpaceOnUse"><rect width="2" height="2" fill="#f0f0f0"/><rect width="1" height="1" fill="#fff"/><rect x="1" y="1" width="1" height="1" fill="#fff"/></pattern><linearGradient id="gy" x1="0" y1="0" x2="1" y2="1"><stop offset="0" stop-color="#f7de62"/><stop offset="0.55" stop-color="#e8b81c"/><stop offset="1" stop-color="#c8920f"/></linearGradient><linearGradient id="gc" x1="0" y1="0" x2="0" y2="1"><stop offset="0" stop-color="#ffffff"/><stop offset="1" stop-color="#c4d2ea"/></linearGradient><linearGradient id="gb" x1="0" y1="0" x2="0" y2="1"><stop offset="0" stop-color="#e8583a"/><stop offset="1" stop-color="#d81e08"/></linearGradient></defs>
<polygon points="50.5,2 61,10.2 53.5,16.8 45,11.2" fill="#a9741a"/>
<path d="M50.8 2.6 L60 9.8 L53.5 14.8 L46 10.4 Q47.2 6 50.8 2.6Z" fill="url(#gy)"/>
<line x1="54" y1="15.7" x2="60.3" y2="10.7" stroke="#e8c860" stroke-width="0.8"/>
<path d="M75.5 3 L78.5 1.3 H86 V10.5 H75.5Z" fill="#1e8cf0"/>
<path d="M75.5 3 L78.5 1.3 V10.5 H75.5Z" fill="#6cc4ff"/>
<rect x="79.5" y="4" width="5.7" height="3.6" fill="#c4e6ff"/>
<rect x="81" y="5.3" width="3.2" height="1" fill="#1a5cc0"/>
<path d="M76.2 16.2 h10.2 a2.7 2.7 0 0 0 0.4 -5.3 a2.9 2.9 0 0 0 -4.8 -1.2 a3.1 3.1 0 0 0 -5.3 1.7 a2.45 2.45 0 0 0 -0.5 4.8z" fill="url(#gc)" stroke="#5c78b4" stroke-width="0.9"/>
<circle cx="109" cy="8.7" r="7.6" fill="none" stroke="#8fa8d8" stroke-width="1" stroke-dasharray="14 3"/>
<circle cx="109" cy="8.7" r="5.2" fill="none" stroke="#6f90d8" stroke-width="1.1"/>
<circle cx="109" cy="8.7" r="2.9" fill="none" stroke="#4f78d8" stroke-width="1.1"/>
<path d="M109 8.7 L109.3 16.9 A8.2 8.2 0 0 0 114.8 2.9 Z" fill="#8fd08f" opacity="0.8"/>
<circle cx="109" cy="8.5" r="1.6" fill="#2f5fd8"/>
<rect x="108.6" y="9.2" width="1.3" height="7.6" fill="#18a018"/>
<path d="M109.3 16.6 A8 8 0 0 0 114.5 14" fill="none" stroke="#18a018" stroke-width="1.2"/>
<path d="M129.3 8 H143 L140 13 L137 16.6 L134 14.5Z" fill="#f4d24c" stroke="#d0a020" stroke-width="0.7"/>
<ellipse cx="136.3" cy="6" rx="8" ry="2.9" fill="#4f9ad8"/>
<ellipse cx="136" cy="4" rx="4.2" ry="3.1" fill="#6fb4e8"/>
<ellipse cx="136.3" cy="6.6" rx="5" ry="1.2" fill="#3f84c8"/>
<circle cx="140.7" cy="12.7" r="4.1" fill="#d8220e"/>
<rect x="139" y="11" width="3.4" height="3.4" fill="#fff"/>
<g shape-rendering="crispEdges"><rect x="204" y="0" width="1" height="20" fill="#a0a0a0" /><rect x="205" y="0" width="1" height="20" fill="#ffffff" /><rect x="208" y="1" width="3" height="1" fill="#a8a8a8" /><rect x="208" y="3" width="3" height="1" fill="#a8a8a8" /><rect x="208" y="5" width="3" height="1" fill="#a8a8a8" /><rect x="208" y="7" width="3" height="1" fill="#a8a8a8" /><rect x="208" y="9" width="3" height="1" fill="#a8a8a8" /><rect x="208" y="11" width="3" height="1" fill="#a8a8a8" /><rect x="208" y="13" width="3" height="1" fill="#a8a8a8" /><rect x="208" y="15" width="3" height="1" fill="#a8a8a8" /><rect x="208" y="17" width="3" height="1" fill="#a8a8a8" /></g>
<g shape-rendering="crispEdges"><rect x="222" y="3" width="1" height="14" fill="#555555" /><rect x="221" y="4" width="3" height="1" fill="#555555" /><rect x="220" y="14" width="14" height="1" fill="#555555" /><rect x="232" y="13" width="1" height="3" fill="#555555" /></g>
<g shape-rendering="crispEdges"><rect x="228" y="4" width="1" height="9" fill="#1a8a1a" /><rect x="229" y="5" width="2" height="1" fill="#1a8a1a" /><rect x="226" y="11" width="2" height="1" fill="#1a8a1a" /></g>
<rect x="227.8" y="4.2" width="1.4" height="8.6" fill="#1a8a1a"/>
<g shape-rendering="crispEdges"><rect x="242" y="0" width="1" height="19" fill="#a0a0a0" /><rect x="243" y="0" width="24" height="19" fill="url(#dith)" /><rect x="267" y="0" width="1" height="21" fill="#ffffff" /><rect x="242" y="19" width="26" height="2" fill="#ffffff" /></g>
<g shape-rendering="crispEdges"><rect x="250" y="3" width="1" height="14" fill="#555555" /><rect x="249" y="4" width="3" height="1" fill="#555555" /><rect x="248" y="14" width="14" height="1" fill="#555555" /><rect x="260" y="13" width="1" height="3" fill="#555555" /></g>
<g shape-rendering="crispEdges"><rect x="256" y="1" width="1" height="12" fill="#0a8c0a" /><rect x="254" y="3" width="5" height="8" fill="#0a8c0a" /><rect x="255" y="4" width="3" height="6" fill="#4fee5f" /><rect x="255" y="4" width="3" height="2" fill="#80ff88" /></g>
<g shape-rendering="crispEdges"><rect x="278" y="3" width="1" height="14" fill="#555555" /><rect x="277" y="4" width="3" height="1" fill="#555555" /><rect x="276" y="14" width="14" height="1" fill="#555555" /><rect x="288" y="13" width="1" height="3" fill="#555555" /></g>
<path d="M277 12 C280 10 281 6.2 283.5 6.2 C285.5 6.2 287 9.5 289.5 10" fill="none" stroke="#1a8a1a" stroke-width="1.1"/>
<g shape-rendering="crispEdges"><rect x="299" y="0" width="1" height="19" fill="#a0a0a0" /></g>
<line x1="318.5" y1="11.2" x2="323" y2="15.6" stroke="#b99522" stroke-width="3" stroke-linecap="round"/><line x1="318.5" y1="11" x2="322.8" y2="15.2" stroke="#f0d860" stroke-width="1.4" stroke-linecap="round"/><circle cx="314" cy="6.8" r="5.4" fill="#d6ecf8" stroke="#2f74c8" stroke-width="1.3"/><rect x="311" y="6" width="6" height="1.7" fill="#4a7fb0"/><rect x="313.15" y="3.8" width="1.7" height="6" fill="#4a7fb0"/>
<line x1="346.5" y1="11.2" x2="351" y2="15.6" stroke="#b99522" stroke-width="3" stroke-linecap="round"/><line x1="346.5" y1="11" x2="350.8" y2="15.2" stroke="#f0d860" stroke-width="1.4" stroke-linecap="round"/><circle cx="342" cy="6.8" r="5.4" fill="#d6ecf8" stroke="#2f74c8" stroke-width="1.3"/><rect x="339" y="6" width="6" height="1.7" fill="#4a7fb0"/>
<g shape-rendering="crispEdges"><rect x="364" y="1" width="8" height="8" fill="#3fa41f" /><rect x="365" y="4" width="6" height="4" fill="#eef6ff" /><rect x="366" y="6" width="4" height="1" fill="#3fa41f" /><rect x="365" y="2" width="1" height="1" fill="#dfffdf" /><rect x="372" y="1" width="8" height="8" fill="#2a5fd8" /><rect x="373" y="4" width="6" height="4" fill="#eef6ff" /><rect x="374" y="6" width="4" height="1" fill="#2a5fd8" /><rect x="373" y="2" width="1" height="1" fill="#dfffdf" /><rect x="364" y="9" width="8" height="8" fill="#2a5fd8" /><rect x="365" y="12" width="6" height="4" fill="#eef6ff" /><rect x="366" y="14" width="4" height="1" fill="#2a5fd8" /><rect x="365" y="10" width="1" height="1" fill="#dfffdf" /><rect x="372" y="9" width="8" height="8" fill="#3fa41f" /><rect x="373" y="12" width="6" height="4" fill="#eef6ff" /><rect x="374" y="14" width="4" height="1" fill="#3fa41f" /><rect x="373" y="10" width="1" height="1" fill="#dfffdf" /></g>
<g shape-rendering="crispEdges"><rect x="389" y="0" width="1" height="19" fill="#a0a0a0" /><rect x="394" y="0" width="1" height="19" fill="#a0a0a0" /><rect x="395" y="0" width="24" height="19" fill="url(#dith)" /><rect x="419" y="0" width="1" height="21" fill="#ffffff" /><rect x="394" y="19" width="26" height="2" fill="#ffffff" /></g>
<g shape-rendering="crispEdges"><rect x="402" y="3" width="1" height="14" fill="#555555" /><rect x="401" y="4" width="3" height="1" fill="#555555" /><rect x="400" y="14" width="14" height="1" fill="#555555" /><rect x="412" y="13" width="1" height="3" fill="#555555" /></g>
<polygon points="407.5,5.5 411,8.6 407.5,11.7" fill="#86f59a" stroke="#0f9a0f" stroke-width="1.1" stroke-linejoin="round"/>
<g shape-rendering="crispEdges"><rect x="422" y="0" width="1" height="19" fill="#a0a0a0" /><rect x="423" y="0" width="24" height="19" fill="url(#dith)" /><rect x="447" y="0" width="1" height="21" fill="#ffffff" /><rect x="422" y="19" width="26" height="2" fill="#ffffff" /></g>
<g shape-rendering="crispEdges"><rect x="430" y="3" width="1" height="14" fill="#555555" /><rect x="429" y="4" width="3" height="1" fill="#555555" /><rect x="428" y="14" width="14" height="1" fill="#555555" /><rect x="440" y="13" width="1" height="3" fill="#555555" /></g>
<g shape-rendering="crispEdges"><rect x="436" y="3" width="1" height="10" fill="#1a6a9a" /></g>
<polygon points="437,8.5 440.4,6 439.6,8 441.9,8 441.9,9 439.6,9 440.4,11" fill="#d24a0c"/>
<g shape-rendering="crispEdges"><rect x="451" y="0" width="1" height="19" fill="#a0a0a0" /></g>
<path d="M461.5 1.5 h7 l4 4 v9 h-11z" fill="#fafafa" stroke="#a8a8a8" stroke-width="1"/>
<path d="M468.5 1.5 v4 h4" fill="#e8e8e8" stroke="#a8a8a8" stroke-width="0.8"/>
<path d="M467 4 q-2.2 -0.3 -2.2 2 v5 q0 2 -1.6 1.8 M463.8 7.8 h2.4" fill="none" stroke="#505050" stroke-width="1"/>
<g shape-rendering="crispEdges"><rect x="469" y="7" width="4" height="12" fill="#17901a" /><rect x="465" y="11" width="12" height="4" fill="#17901a" /></g>
<g shape-rendering="crispEdges"><rect x="470" y="8" width="2" height="10" fill="#35e03a" /><rect x="466" y="12" width="10" height="2" fill="#35e03a" /></g>
<g shape-rendering="crispEdges"><rect x="483" y="8" width="5" height="1" fill="#000" /><rect x="484" y="9" width="3" height="1" fill="#000" /><rect x="485" y="10" width="1" height="1" fill="#000" /></g>
<circle cx="507" cy="9" r="6.7" fill="#fcfcfc" stroke="url(#gk)" stroke-width="2.6"/>
<circle cx="507" cy="9" r="4.6" fill="none" stroke="#b8c4d8" stroke-width="0.9" stroke-dasharray="0.9 1.5"/>
<path d="M506.6 5.2 L507.2 9.2 L510 9.6" fill="none" stroke="#303030" stroke-width="1.1"/>
<g shape-rendering="crispEdges"><rect x="522" y="8" width="5" height="1" fill="#000" /><rect x="523" y="9" width="3" height="1" fill="#000" /><rect x="524" y="10" width="1" height="1" fill="#000" /></g>
<g shape-rendering="crispEdges"><rect x="538" y="2" width="16" height="14" fill="#2f74c8" /><rect x="539" y="3" width="14" height="2" fill="#8fc0f4" /><rect x="539" y="5" width="14" height="10" fill="#ffffff" /><rect x="539" y="10" width="14" height="1" fill="#2f74c8" /></g>
<polyline points="540,8.5 543,8 545,6.8 547,7.6 549,6.5 552,6.8" fill="none" stroke="#a82010" stroke-width="1.2"/>
<polyline points="540,13.5 543,13.2 545,12 547,13 549,11.6 552,13.2" fill="none" stroke="#1a8a1a" stroke-width="1.2"/>
<g shape-rendering="crispEdges"><rect x="561" y="8" width="5" height="1" fill="#000" /><rect x="562" y="9" width="3" height="1" fill="#000" /><rect x="563" y="10" width="1" height="1" fill="#000" /></g>
<g shape-rendering="crispEdges"><rect x="572" y="0" width="1" height="21" fill="#a0a0a0" /><rect x="573" y="0" width="1" height="21" fill="#ffffff" /><rect x="576" y="1" width="3" height="1" fill="#a8a8a8" /><rect x="576" y="3" width="3" height="1" fill="#a8a8a8" /><rect x="576" y="5" width="3" height="1" fill="#a8a8a8" /><rect x="576" y="7" width="3" height="1" fill="#a8a8a8" /><rect x="576" y="9" width="3" height="1" fill="#a8a8a8" /><rect x="576" y="11" width="3" height="1" fill="#a8a8a8" /><rect x="576" y="13" width="3" height="1" fill="#a8a8a8" /><rect x="576" y="15" width="3" height="1" fill="#a8a8a8" /><rect x="576" y="17" width="3" height="1" fill="#a8a8a8" /><rect x="582" y="0" width="1" height="19" fill="#a0a0a0" /><rect x="583" y="0" width="24" height="19" fill="url(#dith)" /><rect x="607" y="0" width="1" height="21" fill="#ffffff" /><rect x="582" y="19" width="26" height="2" fill="#ffffff" /></g>
<path d="M590 1.8 L590 13.2 L592.6 10.9 L595 16.2 L597 15.2 L594.7 10.1 L598.2 9.6 Z" fill="#404040"/>
<g shape-rendering="crispEdges"><rect x="615" y="9" width="6" height="1" fill="#404040" /><rect x="624" y="9" width="6" height="1" fill="#404040" /><rect x="622" y="2" width="1" height="6" fill="#404040" /><rect x="622" y="11" width="1" height="6" fill="#404040" /><rect x="622" y="9" width="1" height="1" fill="#909090" /></g>
<g shape-rendering="crispEdges"><rect x="639" y="0" width="1" height="19" fill="#a0a0a0" /></g>
<g shape-rendering="crispEdges"><rect x="656" y="3" width="1" height="13" fill="#404040" /><rect x="679" y="9" width="12" height="1" fill="#404040" /></g>
<line x1="707" y1="16" x2="719" y2="4" stroke="#404040" stroke-width="1.1"/>
<line x1="732.4" y1="10.6" x2="741" y2="2.9" stroke="#606060" stroke-width="0.8"/>
<line x1="734" y1="14.6" x2="746.5" y2="4.6" stroke="#404040" stroke-width="1.1"/>
<line x1="737.7" y1="16" x2="747.3" y2="7.3" stroke="#606060" stroke-width="0.8"/>
<line x1="734.6" y1="8.6" x2="735.6" y2="15.6" stroke="#404040" stroke-width="1.2"/>
<line x1="739.4" y1="5" x2="740.2" y2="12.6" stroke="#404040" stroke-width="1.2"/>
<line x1="744.4" y1="1.5" x2="745.2" y2="8.2" stroke="#404040" stroke-width="1.2"/>
<text x="743.7" y="18" font-size="7" font-weight="bold" fill="#303030" font-family="Liberation Sans, sans-serif">E</text>
<g shape-rendering="crispEdges"><rect x="762" y="2" width="1" height="1" fill="#404040" /><rect x="764" y="2" width="1" height="1" fill="#404040" /><rect x="766" y="2" width="1" height="1" fill="#404040" /><rect x="768" y="2" width="1" height="1" fill="#404040" /><rect x="770" y="2" width="1" height="1" fill="#404040" /><rect x="772" y="2" width="1" height="1" fill="#404040" /><rect x="774" y="2" width="1" height="1" fill="#404040" /><rect x="762" y="5" width="1" height="1" fill="#404040" /><rect x="764" y="5" width="1" height="1" fill="#404040" /><rect x="766" y="5" width="1" height="1" fill="#404040" /><rect x="768" y="5" width="1" height="1" fill="#404040" /><rect x="770" y="5" width="1" height="1" fill="#404040" /><rect x="772" y="5" width="1" height="1" fill="#404040" /><rect x="774" y="5" width="1" height="1" fill="#404040" /><rect x="762" y="9" width="1" height="1" fill="#404040" /><rect x="764" y="9" width="1" height="1" fill="#404040" /><rect x="766" y="9" width="1" height="1" fill="#404040" /><rect x="768" y="9" width="1" height="1" fill="#404040" /><rect x="770" y="9" width="1" height="1" fill="#404040" /><rect x="772" y="9" width="1" height="1" fill="#404040" /><rect x="774" y="9" width="1" height="1" fill="#404040" /><rect x="762" y="13" width="1" height="1" fill="#404040" /><rect x="764" y="13" width="1" height="1" fill="#404040" /><rect x="766" y="13" width="1" height="1" fill="#404040" /><rect x="768" y="13" width="1" height="1" fill="#404040" /><rect x="770" y="13" width="1" height="1" fill="#404040" /></g>
<text x="771.8" y="18" font-size="7" font-weight="bold" fill="#303030" font-family="Liberation Sans, sans-serif">F</text>
<text x="792.3" y="14" font-size="13" fill="#505050" stroke="#505050" stroke-width="0.4" font-family="Liberation Sans, sans-serif">A</text>
<g shape-rendering="crispEdges"><rect x="819" y="2" width="1" height="1" fill="#505050" /><rect x="819" y="15" width="1" height="1" fill="#505050" /><rect x="821" y="2" width="1" height="1" fill="#505050" /><rect x="821" y="15" width="1" height="1" fill="#505050" /><rect x="823" y="2" width="1" height="1" fill="#505050" /><rect x="823" y="15" width="1" height="1" fill="#505050" /><rect x="825" y="2" width="1" height="1" fill="#505050" /><rect x="825" y="15" width="1" height="1" fill="#505050" /><rect x="827" y="2" width="1" height="1" fill="#505050" /><rect x="827" y="15" width="1" height="1" fill="#505050" /><rect x="829" y="2" width="1" height="1" fill="#505050" /><rect x="829" y="15" width="1" height="1" fill="#505050" /><rect x="831" y="2" width="1" height="1" fill="#505050" /><rect x="831" y="15" width="1" height="1" fill="#505050" /><rect x="819" y="2" width="1" height="1" fill="#505050" /><rect x="831" y="2" width="1" height="1" fill="#505050" /><rect x="819" y="4" width="1" height="1" fill="#505050" /><rect x="831" y="4" width="1" height="1" fill="#505050" /><rect x="819" y="6" width="1" height="1" fill="#505050" /><rect x="831" y="6" width="1" height="1" fill="#505050" /><rect x="819" y="8" width="1" height="1" fill="#505050" /><rect x="831" y="8" width="1" height="1" fill="#505050" /><rect x="819" y="10" width="1" height="1" fill="#505050" /><rect x="831" y="10" width="1" height="1" fill="#505050" /><rect x="819" y="12" width="1" height="1" fill="#505050" /><rect x="831" y="12" width="1" height="1" fill="#505050" /><rect x="819" y="14" width="1" height="1" fill="#505050" /><rect x="831" y="14" width="1" height="1" fill="#505050" /></g>
<text x="820.8" y="14" font-size="12" fill="#505050" stroke="#505050" stroke-width="0.4" font-family="Liberation Sans, sans-serif">T</text>
<polygon points="846,6.5 849.5,3 853,6.5 849.5,8" fill="#505050"/>
<polygon points="853,12.5 856.5,11 860,12.5 856.5,16" fill="#505050"/>
<polyline points="848.5,10.5 850.5,12.5 855.5,7" fill="none" stroke="#505050" stroke-width="1.3"/>
<g shape-rendering="crispEdges"><rect x="867" y="8" width="5" height="1" fill="#000" /><rect x="868" y="9" width="3" height="1" fill="#000" /><rect x="869" y="10" width="1" height="1" fill="#000" /></g>
<g shape-rendering="crispEdges"><rect x="878" y="0" width="1" height="20" fill="#a0a0a0" /><rect x="879" y="0" width="1" height="20" fill="#ffffff" /><rect x="882" y="1" width="3" height="1" fill="#a8a8a8" /><rect x="882" y="3" width="3" height="1" fill="#a8a8a8" /><rect x="882" y="5" width="3" height="1" fill="#a8a8a8" /><rect x="882" y="7" width="3" height="1" fill="#a8a8a8" /><rect x="882" y="9" width="3" height="1" fill="#a8a8a8" /><rect x="882" y="11" width="3" height="1" fill="#a8a8a8" /><rect x="882" y="13" width="3" height="1" fill="#a8a8a8" /><rect x="882" y="15" width="3" height="1" fill="#a8a8a8" /><rect x="882" y="17" width="3" height="1" fill="#a8a8a8" /></g>
<g shape-rendering="crispEdges"><rect x="1028" y="0" width="1" height="19" fill="#a0a0a0" /><rect x="1029" y="0" width="24" height="19" fill="url(#dith)" /><rect x="1053" y="0" width="1" height="21" fill="#ffffff" /><rect x="1028" y="19" width="26" height="2" fill="#ffffff" /></g>
<text transform="translate(893.3 13) rotate(0.03) scale(1 1.08)" font-size="9.25" fill="#383838" stroke="#383838" stroke-width="0.2" font-family="Liberation Sans, sans-serif">M1</text>
<text transform="translate(921.5 13) rotate(0.03) scale(1 1.08)" font-size="9.25" fill="#383838" stroke="#383838" stroke-width="0.2" font-family="Liberation Sans, sans-serif">M5</text>
<text transform="translate(947.4 13) rotate(0.03) scale(1 1.08)" font-size="9.25" fill="#383838" stroke="#383838" stroke-width="0.2" font-family="Liberation Sans, sans-serif">M15</text>
<text transform="translate(975.5 13) rotate(0.03) scale(1 1.08)" font-size="9.25" fill="#383838" stroke="#383838" stroke-width="0.2" font-family="Liberation Sans, sans-serif">M30</text>
<text transform="translate(1006.7 13) rotate(0.03) scale(1 1.08)" font-size="9.25" fill="#383838" stroke="#383838" stroke-width="0.2" font-family="Liberation Sans, sans-serif">H1</text>
<text transform="translate(1033.6 13) rotate(0.03) scale(1 1.08)" font-size="9.25" fill="#383838" stroke="#383838" stroke-width="0.2" font-family="Liberation Sans, sans-serif">H4</text>
<text transform="translate(1062.7 13) rotate(0.03) scale(1 1.08)" font-size="9.25" fill="#383838" stroke="#383838" stroke-width="0.2" font-family="Liberation Sans, sans-serif">D1</text>
<text transform="translate(1090.4 13) rotate(0.03) scale(1 1.08)" font-size="9.25" fill="#383838" stroke="#383838" stroke-width="0.2" font-family="Liberation Sans, sans-serif">W1</text>
<text transform="translate(1116.7 13) rotate(0.03) scale(1 1.08)" font-size="9.25" fill="#383838" stroke="#383838" stroke-width="0.2" font-family="Liberation Sans, sans-serif">MN</text>
<g shape-rendering="crispEdges"><rect x="1139" y="0" width="1" height="20" fill="#a0a0a0" /><rect x="1140" y="0" width="1" height="20" fill="#ffffff" /></g>
<line x1="1606.3" y1="10" x2="1602" y2="14.3" stroke="#2a62cc" stroke-width="2.4" stroke-linecap="round"/>
<circle cx="1609.6" cy="6.5" r="3.8" fill="#f4f4ff" stroke="#2a62cc" stroke-width="1.2"/>
<path d="M1626.5 11 a5.2 4.6 0 1 1 4.5 4.6 l-2.2 2 l0.2 -2.6 a5 4.6 0 0 1 -2.5 -4z" fill="#e4e4ec" stroke="#a8a8a8" stroke-width="0.9"/>
<circle cx="1640.5" cy="6.3" r="8.2" fill="url(#gb)"/>
<text x="1636.6" y="10.9" font-size="13.5" font-weight="bold" fill="#fff" font-family="Liberation Serif, serif">1</text></svg>
</body></html>
